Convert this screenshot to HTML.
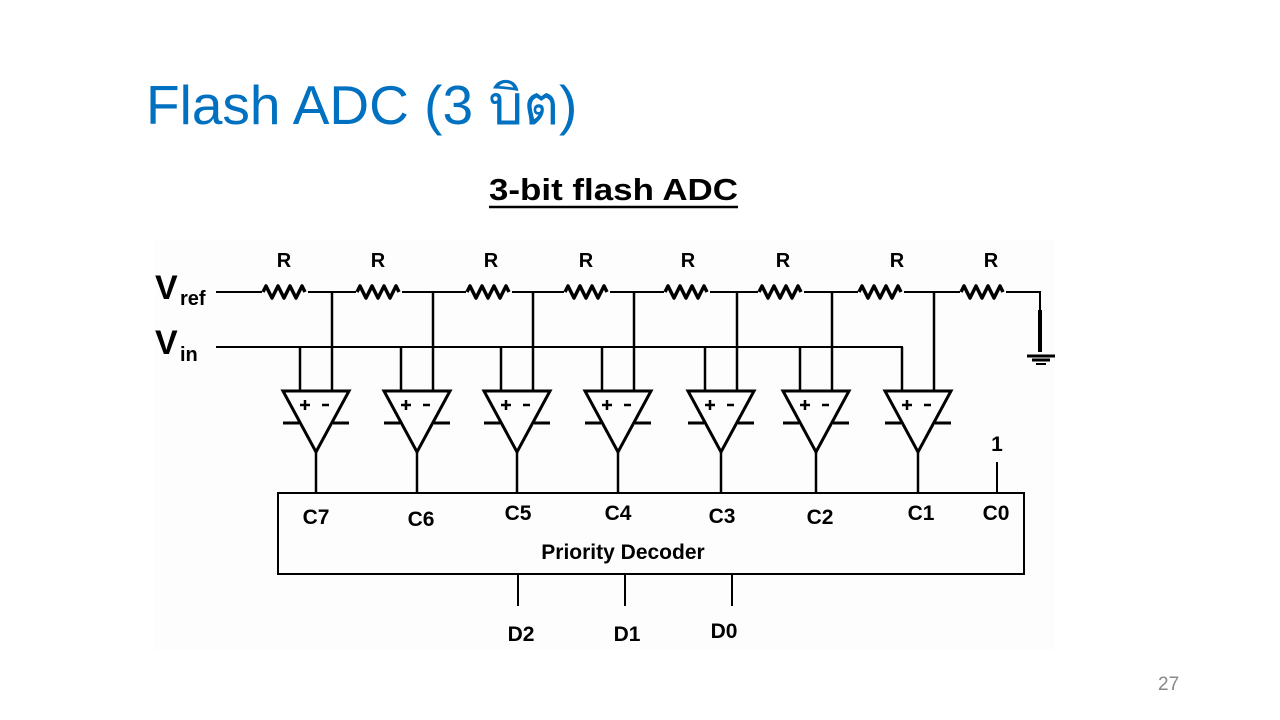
<!DOCTYPE html>
<html><head><meta charset="utf-8"><style>
body{margin:0;width:1280px;height:720px;background:#fff;overflow:hidden;position:relative;font-family:"Liberation Sans",sans-serif}
.t{position:absolute;left:146px;top:62px;font-size:55px;color:#0070C0;font-family:"Liberation Sans","Noto Sans CJK SC",sans-serif;white-space:nowrap}
.pg{position:absolute;left:1158px;top:674px;font-size:19px;color:#888}
svg{position:absolute;left:0;top:0}
</style></head><body>
<div class="t">Flash ADC (3 บิต)</div>
<div class="pg">27</div>
<svg width="1280" height="720" font-family="Liberation Sans, Arial, sans-serif" font-weight="bold">
<rect x="155" y="240" width="900" height="410" fill="#fdfdfd"/>
<text x="489" y="200" font-size="31" textLength="249" lengthAdjust="spacingAndGlyphs">3-bit flash ADC</text>
<line x1="489" y1="207" x2="738" y2="207" stroke="#000" stroke-width="2.5"/>
<text x="155" y="299" font-size="34">V</text><text x="180" y="305" font-size="20">ref</text>
<text x="155" y="354" font-size="34">V</text><text x="180" y="361" font-size="20">in</text>
<g stroke="#000" fill="none" stroke-width="2">
<path d="M216 292H1040V310"/>
<path d="M216 347H902V391"/>
<line x1="1040" y1="310" x2="1040" y2="352" stroke-width="4"/>
<line x1="1027" y1="356" x2="1055" y2="356" stroke-width="3"/>
<line x1="1032" y1="360" x2="1050" y2="360" stroke-width="3"/>
<line x1="1036" y1="364" x2="1046" y2="364" stroke-width="2"/>
</g>
<g fill="#000" font-size="20" text-anchor="middle">
<text x="284" y="267">R</text><text x="378" y="267">R</text><text x="491" y="267">R</text><text x="586" y="267">R</text><text x="688" y="267">R</text><text x="783" y="267">R</text><text x="897" y="267">R</text><text x="991" y="267">R</text>
</g>
<defs>
<path id="r" d="M-22 0l3 -6 6 12 6 -12 6 12 6 -12 6 12 6 -12 3 6" stroke="#000" fill="none" stroke-width="3.5" stroke-linejoin="round"/>
<g id="cmp">
<g stroke="#000" fill="none" stroke-width="2.5">
<line x1="-16" y1="-105" x2="-16" y2="-61"/>
<line x1="16" y1="-160" x2="16" y2="-61"/>
<path d="M-33 -61H33L0 0Z" stroke-width="3"/>
<line x1="-33" y1="-29" x2="-17" y2="-29" stroke-width="3"/>
<line x1="17" y1="-29" x2="33" y2="-29" stroke-width="3"/>
<line x1="0" y1="0" x2="0" y2="40"/>
<line x1="-16" y1="-47" x2="-6" y2="-47" stroke-width="2.5"/>
<line x1="-11" y1="-52" x2="-11" y2="-42" stroke-width="2.5"/>
<line x1="6" y1="-47" x2="13" y2="-47" stroke-width="2.5"/>
</g>
</g>
</defs>
<g>
<rect x="262" y="286" width="46" height="12" fill="#fdfdfd"/><use href="#r" x="285" y="292"/>
<rect x="356" y="286" width="46" height="12" fill="#fdfdfd"/><use href="#r" x="379" y="292"/>
<rect x="466" y="286" width="46" height="12" fill="#fdfdfd"/><use href="#r" x="489" y="292"/>
<rect x="564" y="286" width="46" height="12" fill="#fdfdfd"/><use href="#r" x="587" y="292"/>
<rect x="664" y="286" width="46" height="12" fill="#fdfdfd"/><use href="#r" x="687" y="292"/>
<rect x="758" y="286" width="46" height="12" fill="#fdfdfd"/><use href="#r" x="781" y="292"/>
<rect x="858" y="286" width="46" height="12" fill="#fdfdfd"/><use href="#r" x="881" y="292"/>
<rect x="960" y="286" width="46" height="12" fill="#fdfdfd"/><use href="#r" x="983" y="292"/>
</g>
<use href="#cmp" x="316" y="452"/>
<use href="#cmp" x="417" y="452"/>
<use href="#cmp" x="517" y="452"/>
<use href="#cmp" x="618" y="452"/>
<use href="#cmp" x="721" y="452"/>
<use href="#cmp" x="816" y="452"/>
<use href="#cmp" x="918" y="452"/>
<g stroke="#000" fill="none" stroke-width="2">
<rect x="278" y="493" width="746" height="81"/>
<line x1="997" y1="462" x2="997" y2="493"/>
<line x1="518" y1="574" x2="518" y2="606"/>
<line x1="625" y1="574" x2="625" y2="606"/>
<line x1="732" y1="574" x2="732" y2="606"/>
</g>
<g fill="#000" font-size="21" text-anchor="middle">
<text x="997" y="451">1</text>
<text x="316" y="524">C7</text><text x="421" y="526">C6</text><text x="518" y="520">C5</text><text x="618" y="520">C4</text><text x="722" y="523">C3</text><text x="820" y="524">C2</text><text x="921" y="520">C1</text><text x="996" y="520">C0</text>
<text x="623" y="559">Priority Decoder</text>
<text x="521" y="641">D2</text><text x="627" y="641">D1</text><text x="724" y="638">D0</text>
</g>
</svg>
</body></html>
